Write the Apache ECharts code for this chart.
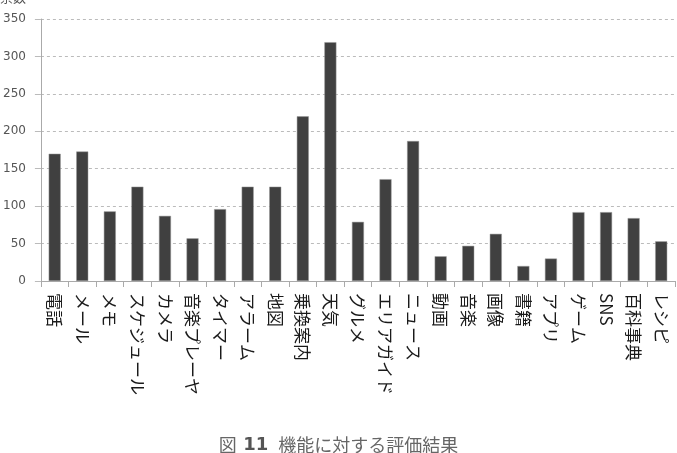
<!DOCTYPE html>
<html>
<head>
<meta charset="utf-8">
<script src="https://cdn.jsdelivr.net/npm/echarts@6/dist/echarts.min.js"></script>
<style>
  html, body { margin: 0; padding: 0; background: #fff; }
  #chart { width: 677px; height: 453px; }
</style>
</head>
<body>
<div id="chart"></div>
<script>
// 機能ごとの票数
var categories = ["電話", "メール", "メモ", "スケジュール", "カメラ", "音楽プレーヤ", "タイマー", "アラーム", "地図", "乗換案内", "天気", "グルメ", "エリアガイド", "ニュース", "動画", "音楽", "画像", "書籍", "アプリ", "ゲーム", "SNS", "百科事典", "レシピ"];
var votes = [170, 173, 93, 126, 87, 57, 96, 126, 126, 220, 319, 79, 136, 187, 33, 47, 63, 20, 30, 92, 92, 84, 53];
var yTicks = [0, 50, 100, 150, 200, 250, 300, 350];

var chart = echarts.init(document.getElementById("chart"));
chart.setOption({
  animation: false,
  grid: {
    left: 40,
    right: 2,
    top: 19,
    bottom: 172
  },
  graphic: [
    {
      type: "text",
      left: 0,
      top: -9,
      style: {
        text: "票数",
        font: "13px 'Noto Sans CJK JP'",
        fill: "#555"
      }
    },
    {
      type: "text",
      left: "center",
      top: 436,
      style: {
        text: "{a|図}  {b|11}   {a|機能に対する評価結果}",
        rich: {
          a: { fontFamily: "Noto Sans CJK JP", fontSize: 18, fill: "#666" },
          b: { fontFamily: "DejaVu Sans", fontSize: 18, fontWeight: "bold", fill: "#555" }
        }
      }
    }
  ],
  xAxis: {
    type: "category",
    data: categories,
    axisLine: { lineStyle: { color: "#aaa" } },
    axisTick: { show: true, length: 6, lineStyle: { color: "#aaa" } },
    axisLabel: {
      rotate: -90,
      interval: 0,
      margin: 12,
      color: "#1a1a1a",
      fontSize: 17,
      fontFamily: "Noto Sans CJK JP"
    }
  },
  yAxis: {
    type: "value",
    min: yTicks[0],
    max: yTicks[yTicks.length - 1],
    interval: 50,
    axisLine: { show: true, lineStyle: { color: "#aaa" } },
    axisTick: { show: true, length: 6, lineStyle: { color: "#bbb" } },
    axisLabel: {
      color: "#555",
      fontSize: 12,
      fontFamily: "DejaVu Sans",
      margin: 15
    },
    splitLine: { lineStyle: { color: "#bbb", type: [3, 3] } }
  },
  series: [
    {
      type: "bar",
      data: votes,
      barWidth: 12,
      itemStyle: {
        color: "#404040",
        borderColor: "#999",
        borderWidth: 0.5
      }
    }
  ]
});
</script>
</body>
</html>
